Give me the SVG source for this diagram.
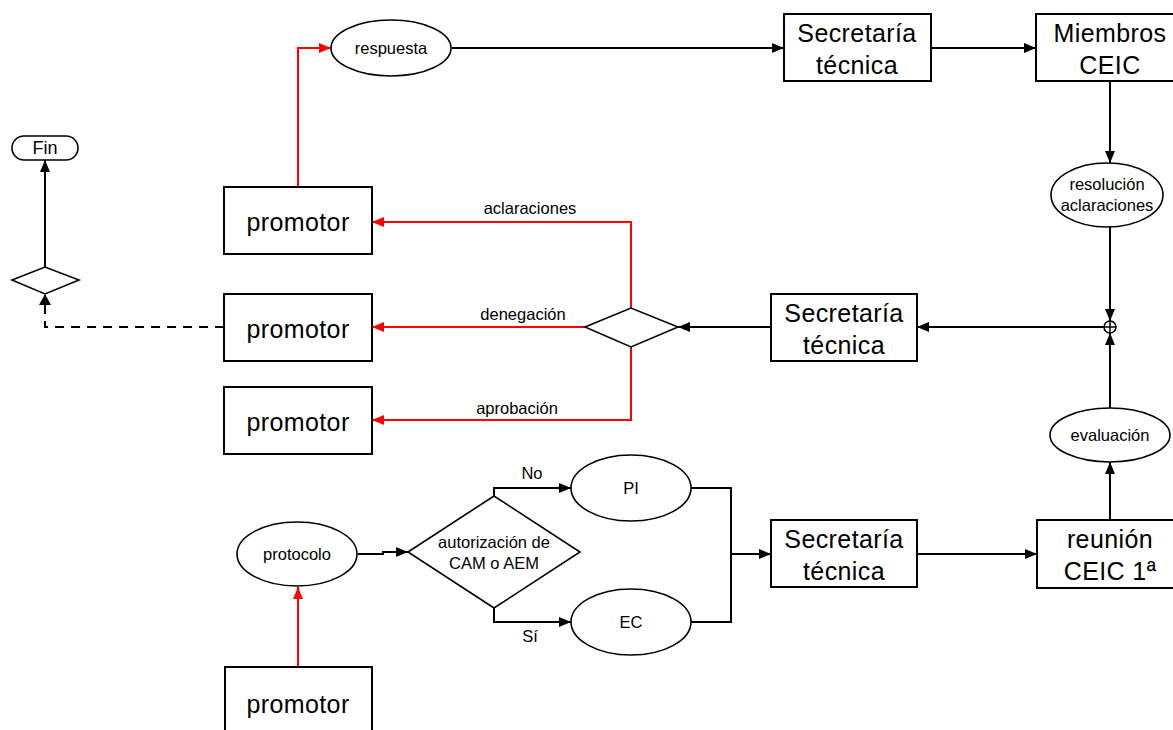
<svg xmlns="http://www.w3.org/2000/svg" width="1173" height="730" viewBox="0 0 1173 730">
<style>
.box{fill:#fff;stroke:#000;stroke-width:2}
.sh{fill:#fff;stroke:#000;stroke-width:1.6}
.bt{font-family:"Liberation Sans",Arial,sans-serif;font-size:25px;letter-spacing:0.4px;text-anchor:middle;fill:#000}
.et{font-family:"Liberation Sans",Arial,sans-serif;font-size:16.5px;text-anchor:middle;fill:#000}
.lt{font-family:"Liberation Sans",Arial,sans-serif;font-size:16.5px;text-anchor:middle;fill:#000}
.k{fill:none;stroke:#000;stroke-width:2}
.r{fill:none;stroke:#f00;stroke-width:2}
.d{fill:none;stroke:#000;stroke-width:2;stroke-dasharray:9,7}
</style>
<defs>
<marker id="ak" viewBox="0 0 12 10" refX="12" refY="5" markerWidth="12" markerHeight="10" markerUnits="userSpaceOnUse" orient="auto"><path d="M0,0L12,5L0,10z" fill="#000"/></marker>
<marker id="ar" viewBox="0 0 12 10" refX="12" refY="5" markerWidth="12" markerHeight="10" markerUnits="userSpaceOnUse" orient="auto"><path d="M0,0L12,5L0,10z" fill="#f00"/></marker>
</defs>
<rect width="1173" height="730" fill="#fff"/>
<g id="connectors">
<path class="r" d="M298,187V48H331" marker-end="url(#ar)"/>
<path class="k" d="M452,48H784" marker-end="url(#ak)"/>
<path class="k" d="M931,48H1036" marker-end="url(#ak)"/>
<path class="k" d="M1110,81V163" marker-end="url(#ak)"/>
<path class="k" d="M1110,227V321" marker-end="url(#ak)"/>
<path class="k" d="M1110,408V333" marker-end="url(#ak)"/>
<path class="k" d="M1110,520V462" marker-end="url(#ak)"/>
<path class="k" d="M1104,327H917" marker-end="url(#ak)"/>
<path class="k" d="M771,327H678" marker-end="url(#ak)"/>
<path class="r" d="M631,308V222H372" marker-end="url(#ar)"/>
<path class="r" d="M585,327H372" marker-end="url(#ar)"/>
<path class="r" d="M631,347V420H372" marker-end="url(#ar)"/>
<path class="d" d="M224,327H45V295"/>
<path d="M39,305L45,294L51,305z" fill="#000"/>
<path class="k" d="M45,267V160" marker-end="url(#ak)"/>
<path class="r" d="M298,667V587" marker-end="url(#ar)"/>
<path class="k" d="M358,554H383V552H408" marker-end="url(#ak)"/>
<path class="k" d="M494,496V488H571" marker-end="url(#ak)"/>
<path class="k" d="M494,608V622H571" marker-end="url(#ak)"/>
<path class="k" d="M691,488H731V622H691M731,554H771" marker-end="url(#ak)"/>
<path class="k" d="M917,554H1037" marker-end="url(#ak)"/>
<text class="lt" x="530" y="214">aclaraciones</text>
<text class="lt" x="523" y="320">denegación</text>
<text class="lt" x="517" y="414">aprobación</text>
<text class="lt" x="532" y="479">No</text>
<text class="lt" x="530" y="642">Sí</text>
</g>
<g id="fin"><rect class="sh" x="12" y="136" width="66" height="24" rx="12"/><text class="et" x="45" y="154" style="font-size:18px">Fin</text></g>
<g id="dec-fin"><path class="sh" d="M12,280L45,267L79,280L45,294z"/></g>
<g id="respuesta"><ellipse class="sh" cx="391" cy="48" rx="60" ry="28"/><text class="et" x="391" y="54">respuesta</text></g>
<g id="sec1"><rect class="box" x="784" y="14" width="147" height="67"/><text class="bt" x="857" y="42">Secretaría</text><text class="bt" x="857" y="74">técnica</text></g>
<g id="miembros"><rect class="box" x="1036" y="14" width="150" height="67"/><text class="bt" x="1110" y="42">Miembros</text><text class="bt" x="1110" y="74">CEIC</text></g>
<g id="resolucion"><ellipse class="sh" cx="1107" cy="195" rx="56" ry="32"/><text class="et" x="1107" y="190">resolución</text><text class="et" x="1107" y="211">aclaraciones</text></g>
<g id="junction"><circle class="sh" cx="1110" cy="327" r="6"/><path d="M1104,327H1116M1110,321V333" stroke="#000" stroke-width="1.5"/></g>
<g id="sec2"><rect class="box" x="771" y="294" width="146" height="67"/><text class="bt" x="844" y="322">Secretaría</text><text class="bt" x="844" y="354">técnica</text></g>
<g id="dec-resp"><path class="sh" d="M585,327L631,308L678,327L631,347z"/></g>
<g id="prom1"><rect class="box" x="224" y="187" width="148" height="67"/><text class="bt" x="298" y="231">promotor</text></g>
<g id="prom2"><rect class="box" x="224" y="294" width="148" height="67"/><text class="bt" x="298" y="338">promotor</text></g>
<g id="prom3"><rect class="box" x="224" y="387" width="148" height="67"/><text class="bt" x="298" y="431">promotor</text></g>
<g id="evaluacion"><ellipse class="sh" cx="1110" cy="435" rx="60" ry="27"/><text class="et" x="1110" y="441">evaluación</text></g>
<g id="pi"><ellipse class="sh" cx="631" cy="488" rx="60" ry="33"/><text class="et" x="631" y="494">PI</text></g>
<g id="ec"><ellipse class="sh" cx="631" cy="622" rx="60" ry="33"/><text class="et" x="631" y="628">EC</text></g>
<g id="dec-aut"><path class="sh" d="M408,552L494,496L580,552L494,608z"/><text class="et" x="494" y="548">autorización de</text><text class="et" x="494" y="569">CAM o AEM</text></g>
<g id="protocolo"><ellipse class="sh" cx="297" cy="554" rx="60" ry="32"/><text class="et" x="297" y="560">protocolo</text></g>
<g id="sec3"><rect class="box" x="771" y="520" width="146" height="67"/><text class="bt" x="844" y="548">Secretaría</text><text class="bt" x="844" y="580">técnica</text></g>
<g id="reunion"><rect class="box" x="1037" y="520" width="150" height="68"/><text class="bt" x="1110" y="548">reunión</text><text class="bt" x="1110" y="580">CEIC 1ª</text></g>
<g id="prom4"><rect class="box" x="225" y="667" width="147" height="80"/><text class="bt" x="298" y="713">promotor</text></g>
</svg>
